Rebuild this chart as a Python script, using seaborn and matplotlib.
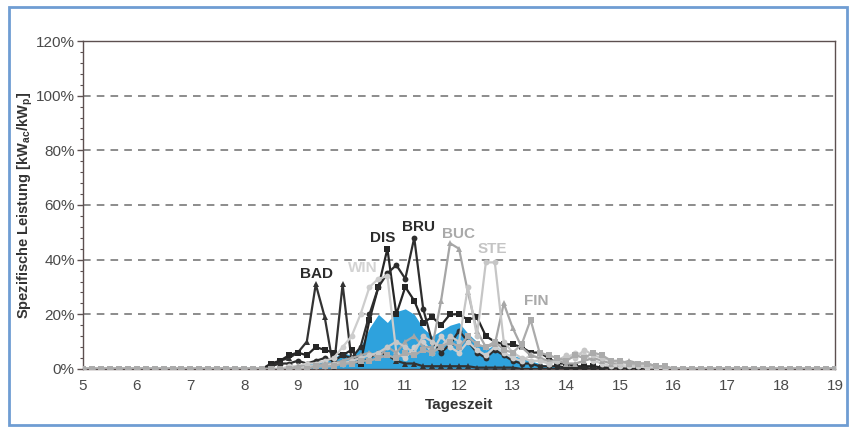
import numpy as np
import pandas as pd
import matplotlib
matplotlib.use("Agg")
import matplotlib.pyplot as plt
from matplotlib.patches import Rectangle
from matplotlib.ticker import MultipleLocator, PercentFormatter
import seaborn as sns

sns.set_theme(style="white")
plt.rcParams["font.family"] = ["Liberation Sans", "DejaVu Sans"]

# Time of day in hours, 10-minute resolution from 5:00 to 19:00
t_start, t_end = 5.0, 19.0
# Active window 8:30 .. 16:00 (46 samples); outside it every plant delivers 0 %
active_start = 8.5

BAD = [1, 3, 4, 6, 10, 31, 19, 0, 31, 3,
       2, 4, 6, 5, 3, 2, 2, 1, 1, 1,
       1, 1, 1, 0.5, 0.5, 0.5, 0.5, 0.5, 0, 0,
       0, 0, 0, 0, 0, 0, 0, 0, 0, 0,
       0, 0, 0, 0, 0, 0]
DIS = [2, 3, 5, 6, 5, 8, 7, 6, 5, 7,
       2, 18, 30, 44, 20, 30, 25, 17, 19, 16,
       20, 20, 18, 19, 12, 10, 9, 9, 8, 6,
       6, 4, 2, 2, 1, 1, 1, 0.5, 0.5, 0.5,
       0, 0, 0, 0, 0, 0]
BRU = [1, 2, 2, 3, 2, 3, 4, 3, 5, 4,
       8, 20, 30, 35, 38, 33, 48, 22, 10, 6,
       9, 14, 10, 6, 4, 7, 5, 3, 2, 2,
       1, 1, 1, 0.5, 0.5, 0.5, 0, 0, 0, 0,
       0, 0, 0, 0, 0, 0]
WIN = [0, 0, 1, 1, 2, 2, 3, 4, 8, 12,
       20, 30, 33, 34, 6, 4, 8, 10, 6, 12,
       8, 6, 10, 7, 5, 8, 6, 4, 3, 5,
       4, 2, 3, 4, 6, 5, 3, 2, 1, 1,
       1, 1, 0.5, 0.5, 0, 0]
BUC = [0, 0, 0, 1, 1, 1, 2, 2, 3, 4,
       5, 6, 4, 8, 6, 10, 12, 8, 8, 25,
       46, 44, 28, 14, 8, 9, 24, 15, 8, 5,
       4, 3, 3, 2, 2, 3, 4, 3, 2, 2,
       3, 2, 2, 1, 1, 0]
STE = [0, 0, 0, 0, 1, 1, 1, 2, 2, 3,
       4, 5, 6, 8, 10, 8, 6, 12, 10, 8,
       12, 10, 30, 12, 39, 39, 10, 6, 4, 3,
       3, 2, 3, 5, 4, 7, 5, 4, 3, 2,
       2, 1, 1, 1, 0, 0]
FIN = [0, 0, 0, 0, 0, 1, 1, 1, 2, 2,
       3, 3, 4, 5, 4, 6, 5, 7, 6, 8,
       10, 8, 12, 9, 8, 10, 7, 6, 9, 18,
       6, 5, 4, 3, 5, 4, 6, 5, 3, 3,
       2, 2, 2, 1, 1, 0]
MEAN = [0, 0, 0, 1, 2, 2, 3, 4, 6, 5,
        8, 15, 20, 17, 21, 22, 20, 15, 12, 14,
        16, 17, 13, 10, 7, 9, 6, 5, 4, 3,
        2, 1, 1, 0.5, 0, 0, 0, 0, 0, 0,
        0, 0, 0, 0, 0, 0]

series = {"BAD": BAD, "DIS": DIS, "BRU": BRU, "WIN": WIN,
          "BUC": BUC, "STE": STE, "FIN": FIN}
styles = {
    "WIN": dict(color="#cdcdcd", marker="o"),
    "STE": dict(color="#c6c6c6", marker="o"),
    "FIN": dict(color="#ababab", marker="s"),
    "BUC": dict(color="#a6a6a6", marker="^"),
    "BRU": dict(color="#2e2e2e", marker="o"),
    "DIS": dict(color="#262626", marker="s"),
    "BAD": dict(color="#333333", marker="^"),
}
labels = {
    "BAD": (9.35, 0.323, "#2b2b2b"),
    "DIS": (10.58, 0.453, "#2b2b2b"),
    "BRU": (11.25, 0.493, "#2b2b2b"),
    "WIN": (10.2, 0.345, "#d3d3d3"),
    "BUC": (12.0, 0.468, "#a9a9a9"),
    "STE": (12.62, 0.413, "#c4c4c4"),
    "FIN": (13.43, 0.223, "#a9a9a9"),
}

n_total = int(round((t_end - t_start) * 6)) + 1
times = t_start + np.arange(n_total) / 6.0
offset = int(round((active_start - t_start) * 6))


def full_day(values):
    out = np.zeros(n_total)
    out[offset:offset + len(values)] = np.asarray(values, dtype=float) / 100.0
    return out


fig = plt.figure(figsize=(8.53, 4.28), dpi=100)
ax = fig.add_axes([0.0973, 0.1379, 0.9816 - 0.0973 - 0.0027, 0.9042 - 0.1379])

# Outer frame
fig.patches.append(Rectangle((9 / 853, 3 / 428), 838 / 853, 418 / 428,
                             transform=fig.transFigure, fill=False,
                             edgecolor="#6f9dd3", linewidth=2.0, zorder=0))

# Average curve as filled area
mean = full_day(MEAN)
ax.fill_between(times, 0, mean, color="#2ea2dd", linewidth=0, zorder=2)

for i, (name, vals) in enumerate(series.items()):
    df = pd.DataFrame({"Tageszeit": times, "Leistung": full_day(vals)})
    st = styles[name]
    sns.lineplot(data=df, x="Tageszeit", y="Leistung", ax=ax,
                 color=st["color"], marker=st["marker"], markersize=4.2,
                 markeredgewidth=0, linewidth=1.6, zorder=3 + i)

for name, (x, y, c) in labels.items():
    ax.text(x, y, name, color=c, fontsize=11, fontweight="bold",
            ha="center", va="bottom", zorder=20)

ax.set_xlim(t_start, t_end)
ax.set_ylim(0, 1.2)
ax.set_xticks(np.arange(5, 20, 1))
ax.set_xticklabels([str(h) for h in range(5, 20)])
ax.yaxis.set_major_locator(MultipleLocator(0.2))
ax.yaxis.set_minor_locator(MultipleLocator(0.04))
ax.yaxis.set_major_formatter(PercentFormatter(1.0, decimals=0))

for y in np.arange(0.2, 1.01, 0.2):
    ax.axhline(y, color="#6e6e6e", linestyle=(0, (5, 4)), linewidth=1.1, zorder=1)

for side in ["left", "top", "right", "bottom"]:
    ax.spines[side].set_color("#5c5050")
    ax.spines[side].set_linewidth(1.0)

ax.tick_params(axis="y", which="major", left=True, length=4, width=1,
               color="#5c5050", labelsize=11, labelcolor="#4a4a4a", pad=2)
ax.tick_params(axis="y", which="minor", left=True, length=2.5, width=0.8,
               color="#5c5050")
ax.tick_params(axis="x", length=0, labelsize=11, labelcolor="#4a4a4a", pad=7)

ax.set_xlabel("Tageszeit", fontsize=11, fontweight="bold", color="#333333",
              labelpad=4)
ax.set_ylabel("Spezifische Leistung [kW$_\\mathregular{ac}$/kW$_\\mathregular{p}$]",
              fontsize=10.5, fontweight="bold", color="#333333")
ax.yaxis.set_label_coords(-0.064, 0.5)

fig.savefig("out.png", dpi=100, facecolor="white")
